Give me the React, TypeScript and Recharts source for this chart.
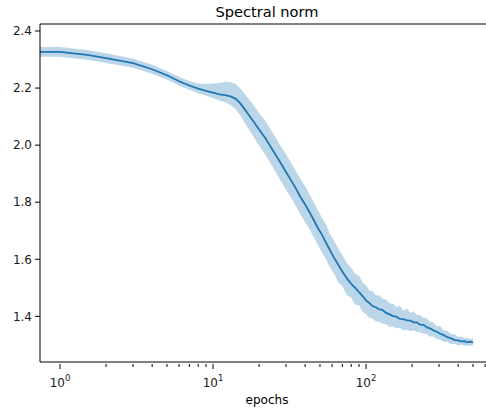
import React from 'react';
import {
  Area,
  ComposedChart,
  Line,
  ReferenceLine,
  XAxis,
  YAxis,
} from 'recharts';

// epochs (first point stands in for the clipped epoch-0 segment on the log axis)
const epochs = [
  0.74, 1, 1.5, 2, 3, 4, 5, 6, 7, 8, 9, 10, 11, 12, 13, 14, 15, 16, 17, 18, 20, 22, 25, 28, 30, 32, 35, 37,
  40, 43, 45, 48, 52, 55, 58, 62, 66, 70, 75, 80, 85, 90, 95, 100, 105, 110, 116, 122, 128, 135, 143, 150,
  158, 166, 175, 185, 195, 205, 215, 225, 238, 250, 262, 275, 290, 305, 320, 340, 360, 380, 400, 420, 440,
  460, 480, 500,
];

const meanNorm = [
  2.327, 2.327, 2.316, 2.305, 2.287, 2.266, 2.245, 2.224, 2.209, 2.198, 2.19, 2.184, 2.178, 2.175, 2.171,
  2.163, 2.148, 2.128, 2.108, 2.09, 2.055, 2.024, 1.976, 1.933, 1.906, 1.881, 1.846, 1.821, 1.792, 1.762,
  1.743, 1.714, 1.682, 1.656, 1.633, 1.604, 1.58, 1.557, 1.533, 1.514, 1.5, 1.485, 1.471, 1.456, 1.447,
  1.436, 1.432, 1.424, 1.423, 1.412, 1.407, 1.401, 1.399, 1.391, 1.39, 1.386, 1.385, 1.379, 1.379, 1.371,
  1.37, 1.361, 1.358, 1.351, 1.346, 1.339, 1.335, 1.327, 1.323, 1.317, 1.316, 1.312, 1.313, 1.309, 1.311,
  1.309,
];

const lowerNorm = [
  2.31, 2.31, 2.299, 2.288, 2.271, 2.25, 2.23, 2.209, 2.194, 2.182, 2.173, 2.165, 2.156, 2.15, 2.141, 2.127,
  2.106, 2.081, 2.058, 2.037, 1.999, 1.966, 1.916, 1.871, 1.844, 1.82, 1.784, 1.76, 1.73, 1.703, 1.682, 1.654,
  1.62, 1.598, 1.571, 1.548, 1.518, 1.506, 1.474, 1.466, 1.441, 1.439, 1.416, 1.408, 1.394, 1.393, 1.382,
  1.381, 1.374, 1.372, 1.362, 1.365, 1.357, 1.36, 1.351, 1.353, 1.349, 1.35, 1.345, 1.344, 1.339, 1.337,
  1.329, 1.329, 1.32, 1.319, 1.311, 1.311, 1.303, 1.303, 1.298, 1.301, 1.296, 1.298, 1.297, 1.298,
];

const upperNorm = [
  2.344, 2.344, 2.333, 2.322, 2.303, 2.282, 2.26, 2.239, 2.225, 2.216, 2.214, 2.216, 2.218, 2.222, 2.221,
  2.214, 2.2, 2.182, 2.164, 2.147, 2.113, 2.084, 2.036, 1.993, 1.968, 1.943, 1.907, 1.884, 1.856, 1.824, 1.805,
  1.776, 1.741, 1.72, 1.689, 1.666, 1.636, 1.614, 1.586, 1.57, 1.548, 1.541, 1.518, 1.51, 1.491, 1.49, 1.474,
  1.474, 1.462, 1.459, 1.445, 1.445, 1.432, 1.437, 1.42, 1.427, 1.412, 1.418, 1.405, 1.406, 1.394, 1.393,
  1.38, 1.379, 1.365, 1.366, 1.351, 1.35, 1.337, 1.337, 1.328, 1.329, 1.323, 1.325, 1.321, 1.322,
];

const xTicks = [1, 2, 3, 4, 5, 6, 7, 8, 9, 10, 20, 30, 40, 50, 60, 70, 80, 90, 100, 200, 300, 400, 500, 600];
const xMajor: Record<number, string> = { 1: '0', 10: '1', 100: '2' };
const yTicks = [1.4, 1.6, 1.8, 2.0, 2.2, 2.4];

const data = epochs.map((epoch, i) => ({
  epoch,
  mean: meanNorm[i],
  band: [lowerNorm[i], upperNorm[i]],
}));

const BLUE = '#1f77b4';
const FONT = '"DejaVu Sans", sans-serif';

function XTick(props: any) {
  const { x, y, payload } = props;
  const exp = xMajor[payload.value];
  return (
    <g>
      <line x1={x} x2={x} y1={y} y2={y + (exp ? 5 : 3)} stroke="#000" strokeWidth={1} />
      {exp && (
        <text x={x} y={y + 23} textAnchor="middle" fontSize={12} fontFamily={FONT} fill="#1a1a1a">
          <tspan>10</tspan>
          <tspan dy={-6} fontSize={8.5}>
            {exp}
          </tspan>
        </text>
      )}
    </g>
  );
}

export default function App() {
  return (
    <div
      style={{
        position: 'absolute',
        left: 0,
        top: 0,
        width: 486,
        height: 410,
        overflow: 'hidden',
        background: '#fff',
      }}
    >
      <ComposedChart width={500} height={410} data={data} margin={{ top: 24, right: 6, bottom: 0, left: 0 }}>
        <XAxis
          dataKey="epoch"
          type="number"
          scale="log"
          domain={[0.74, 686]}
          allowDataOverflow
          ticks={xTicks}
          interval={0}
          tick={<XTick />}
          tickLine={false}
          tickSize={0}
          height={48}
          stroke="#000"
        />
        <YAxis
          type="number"
          domain={[1.24, 2.4245]}
          allowDataOverflow
          ticks={yTicks}
          interval={0}
          width={40}
          tickSize={5}
          tickMargin={3}
          stroke="#000"
          tick={{ fontSize: 12, fontFamily: FONT, fill: '#1a1a1a' }}
          tickFormatter={(v: number) => v.toFixed(1)}
        />
        <ReferenceLine y={2.4245} stroke="#000" ifOverflow="visible" />
        <Area
          dataKey="band"
          type="linear"
          stroke="none"
          fill={BLUE}
          fillOpacity={0.3}
          isAnimationActive={false}
        />
        <Line
          dataKey="mean"
          type="linear"
          stroke={BLUE}
          strokeWidth={1.8}
          dot={false}
          isAnimationActive={false}
        />
      </ComposedChart>
      <svg
        width={486}
        height={410}
        style={{ position: 'absolute', left: 0, top: 0, pointerEvents: 'none' }}
      >
        <text x={267} y={17} textAnchor="middle" fontSize={14.6} fontFamily={FONT} fill="#000">
          Spectral norm
        </text>
        <text x={267} y={404} textAnchor="middle" fontSize={12} fontFamily={FONT} fill="#000">
          epochs
        </text>
      </svg>
    </div>
  );
}
